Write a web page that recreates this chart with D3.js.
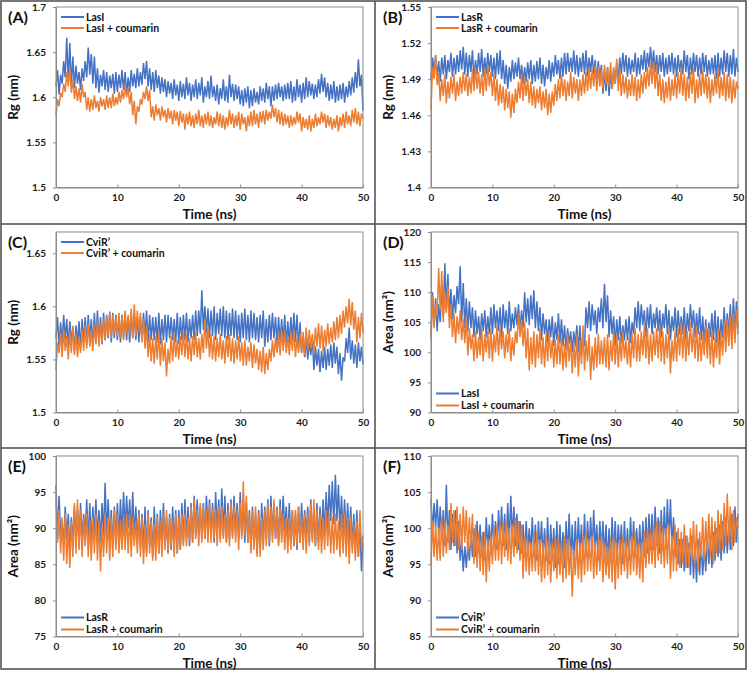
<!DOCTYPE html>
<html><head><meta charset="utf-8">
<script src="https://cdn.jsdelivr.net/npm/d3@7"></script>
<style>
html,body{margin:0;padding:0;background:#fff;}
svg{display:block;font-family:Lato,"Open Sans",sans-serif;}
</style></head>
<body>
<svg id="chart" width="750" height="674"></svg>
<script>
// Time axis (ns): samples every 0.25 ns
const timeStep = 0.25;
const xTicks = [0, 10, 20, 30, 40, 50];

// (A) Rg LasI
const lasI_rg = [
1.612,1.630,1.603,1.625, 1.615,1.640,1.622,1.666, 1.618,1.660,1.612,1.645, 1.610,1.635,1.615,1.628,
1.608,1.632,1.618,1.640, 1.622,1.655,1.625,1.648, 1.615,1.645,1.610,1.632, 1.605,1.625,1.612,1.630,
1.608,1.628,1.606,1.624, 1.610,1.626,1.604,1.628, 1.606,1.625,1.610,1.630, 1.608,1.628,1.604,1.622,
1.606,1.630,1.612,1.626, 1.610,1.632,1.612,1.628, 1.614,1.638,1.620,1.640, 1.612,1.632,1.608,1.628,
1.606,1.630,1.610,1.624, 1.604,1.622,1.606,1.620, 1.600,1.618,1.604,1.616, 1.598,1.620,1.602,1.614,
1.596,1.618,1.600,1.615, 1.598,1.622,1.602,1.616, 1.596,1.614,1.600,1.620, 1.598,1.616,1.602,1.622,
1.594,1.612,1.600,1.618, 1.598,1.624,1.600,1.612, 1.596,1.614,1.592,1.610, 1.598,1.620,1.596,1.612,
1.594,1.625,1.600,1.615, 1.596,1.614,1.598,1.612, 1.592,1.608,1.590,1.610, 1.594,1.612,1.588,1.608,
1.590,1.610,1.594,1.606, 1.592,1.612,1.596,1.610, 1.594,1.616,1.598,1.612, 1.590,1.612,1.596,1.614,
1.598,1.616,1.600,1.612, 1.596,1.614,1.598,1.616, 1.598,1.618,1.594,1.612, 1.596,1.620,1.600,1.614,
1.594,1.616,1.598,1.622, 1.600,1.618,1.602,1.615, 1.598,1.614,1.600,1.620, 1.604,1.626,1.606,1.622,
1.600,1.616,1.596,1.614, 1.598,1.618,1.594,1.612, 1.596,1.614,1.598,1.616, 1.594,1.612,1.600,1.618,
1.602,1.622,1.605,1.628, 1.610,1.642,1.612,1.625, 1.585];
// (A) Rg LasI + coumarin
const lasI_cou_rg = [
1.580,1.598,1.590,1.605, 1.600,1.615,1.606,1.628, 1.612,1.632,1.605,1.620, 1.598,1.612,1.596,1.610,
1.594,1.615,1.600,1.606, 1.586,1.600,1.584,1.598, 1.586,1.602,1.588,1.596, 1.584,1.600,1.590,1.598,
1.586,1.602,1.588,1.600, 1.588,1.604,1.590,1.600, 1.592,1.606,1.594,1.608, 1.598,1.614,1.600,1.610,
1.592,1.606,1.580,1.596, 1.570,1.590,1.584,1.598, 1.592,1.606,1.598,1.612, 1.596,1.608,1.578,1.590,
1.574,1.592,1.580,1.588, 1.574,1.590,1.578,1.586, 1.572,1.588,1.576,1.585, 1.570,1.586,1.574,1.584,
1.568,1.585,1.572,1.582, 1.564,1.582,1.570,1.584, 1.568,1.580,1.566,1.582, 1.570,1.586,1.568,1.580,
1.566,1.582,1.570,1.584, 1.568,1.580,1.566,1.578, 1.570,1.584,1.568,1.582, 1.566,1.580,1.564,1.578,
1.568,1.586,1.570,1.582, 1.566,1.580,1.568,1.584, 1.564,1.582,1.570,1.578, 1.562,1.580,1.568,1.584,
1.568,1.586,1.570,1.582, 1.566,1.584,1.572,1.585, 1.570,1.586,1.574,1.584, 1.576,1.592,1.578,1.588,
1.572,1.586,1.570,1.584, 1.568,1.582,1.570,1.580, 1.566,1.580,1.568,1.578, 1.570,1.584,1.572,1.582,
1.562,1.578,1.566,1.576, 1.564,1.580,1.562,1.576, 1.566,1.582,1.568,1.578, 1.570,1.584,1.572,1.582,
1.566,1.580,1.568,1.578, 1.564,1.576,1.566,1.580, 1.562,1.578,1.568,1.582, 1.566,1.584,1.570,1.580,
1.568,1.586,1.572,1.588, 1.570,1.584,1.568,1.582, 1.576];

// (B) Rg LasR
const lasR_rg = [
1.490,1.508,1.495,1.510, 1.492,1.505,1.488,1.508, 1.494,1.510,1.490,1.506, 1.496,1.512,1.492,1.508,
1.494,1.510,1.496,1.514, 1.498,1.517,1.494,1.512, 1.492,1.510,1.496,1.514, 1.490,1.506,1.494,1.512,
1.496,1.515,1.492,1.508, 1.494,1.512,1.496,1.510, 1.492,1.508,1.490,1.512, 1.494,1.514,1.490,1.506,
1.486,1.502,1.482,1.500, 1.488,1.506,1.490,1.504, 1.492,1.508,1.490,1.502, 1.486,1.500,1.488,1.504,
1.490,1.506,1.486,1.502, 1.488,1.505,1.490,1.508, 1.486,1.502,1.484,1.500, 1.490,1.506,1.488,1.504,
1.492,1.510,1.494,1.506, 1.490,1.508,1.492,1.512, 1.494,1.512,1.496,1.508, 1.496,1.514,1.494,1.510,
1.492,1.508,1.496,1.512, 1.494,1.514,1.492,1.508, 1.496,1.510,1.494,1.506, 1.488,1.505,1.490,1.502,
1.478,1.496,1.480,1.500, 1.476,1.494,1.482,1.498, 1.486,1.504,1.490,1.508, 1.494,1.512,1.496,1.510,
1.492,1.508,1.494,1.506, 1.496,1.512,1.492,1.508, 1.494,1.510,1.498,1.514, 1.496,1.512,1.500,1.517,
1.498,1.514,1.496,1.510, 1.494,1.510,1.496,1.512, 1.492,1.508,1.494,1.510, 1.496,1.512,1.494,1.508,
1.492,1.510,1.496,1.506, 1.494,1.514,1.496,1.510, 1.490,1.508,1.494,1.512, 1.496,1.510,1.492,1.508,
1.494,1.512,1.496,1.510, 1.492,1.506,1.494,1.508, 1.494,1.510,1.490,1.512, 1.492,1.508,1.494,1.514,
1.496,1.512,1.492,1.510, 1.494,1.515,1.492,1.508, 1.496];
// (B) Rg LasR + coumarin
const lasR_cou_rg = [
1.465,1.500,1.490,1.510, 1.485,1.495,1.472,1.490, 1.476,1.494,1.470,1.488, 1.474,1.492,1.478,1.494,
1.472,1.488,1.476,1.492, 1.478,1.496,1.480,1.494, 1.476,1.492,1.478,1.498, 1.480,1.500,1.482,1.496,
1.478,1.494,1.476,1.498, 1.480,1.502,1.484,1.496, 1.476,1.494,1.472,1.490, 1.468,1.486,1.470,1.484,
1.464,1.482,1.466,1.480, 1.458,1.478,1.462,1.482, 1.470,1.488,1.474,1.494, 1.472,1.492,1.476,1.490,
1.470,1.488,1.468,1.484, 1.466,1.482,1.470,1.484, 1.464,1.480,1.466,1.482, 1.460,1.478,1.462,1.480,
1.468,1.486,1.472,1.490, 1.474,1.494,1.476,1.490, 1.472,1.488,1.476,1.496, 1.474,1.492,1.478,1.490,
1.472,1.490,1.476,1.494, 1.478,1.496,1.480,1.500, 1.482,1.498,1.484,1.502, 1.480,1.500,1.484,1.498,
1.482,1.502,1.486,1.500, 1.484,1.504,1.482,1.500, 1.486,1.507,1.480,1.498, 1.476,1.494,1.478,1.492,
1.474,1.490,1.476,1.494, 1.476,1.492,1.472,1.490, 1.474,1.494,1.478,1.496, 1.482,1.500,1.484,1.504,
1.486,1.505,1.482,1.502, 1.476,1.494,1.472,1.490, 1.470,1.488,1.474,1.492, 1.472,1.490,1.476,1.494,
1.474,1.496,1.478,1.500, 1.476,1.494,1.472,1.492, 1.474,1.496,1.478,1.500, 1.470,1.490,1.474,1.494,
1.476,1.498,1.478,1.494, 1.474,1.492,1.470,1.490, 1.476,1.494,1.478,1.498, 1.474,1.492,1.476,1.496,
1.472,1.494,1.474,1.492, 1.470,1.490,1.474,1.488, 1.482];

// (C) Rg CviR'
const cviR_rg = [
1.570,1.590,1.560,1.585, 1.565,1.592,1.568,1.588, 1.562,1.586,1.566,1.580, 1.558,1.582,1.564,1.586,
1.560,1.588,1.566,1.590, 1.564,1.592,1.568,1.588, 1.562,1.594,1.566,1.596, 1.566,1.590,1.564,1.594,
1.568,1.592,1.570,1.595, 1.566,1.594,1.570,1.592, 1.568,1.590,1.566,1.592, 1.570,1.594,1.568,1.590,
1.566,1.592,1.570,1.594, 1.568,1.590,1.566,1.588, 1.570,1.594,1.572,1.596, 1.566,1.592,1.568,1.590,
1.568,1.590,1.566,1.594, 1.564,1.588,1.568,1.592, 1.566,1.592,1.570,1.590, 1.568,1.588,1.566,1.594,
1.564,1.590,1.568,1.592, 1.568,1.594,1.566,1.588, 1.570,1.592,1.568,1.596, 1.572,1.596,1.574,1.615,
1.578,1.600,1.574,1.598, 1.570,1.596,1.572,1.600, 1.568,1.594,1.574,1.598, 1.572,1.600,1.570,1.596,
1.568,1.594,1.572,1.598, 1.570,1.596,1.568,1.592, 1.566,1.594,1.570,1.598, 1.568,1.592,1.566,1.596,
1.570,1.594,1.568,1.590, 1.566,1.592,1.570,1.596, 1.562,1.588,1.566,1.592, 1.568,1.594,1.570,1.590,
1.564,1.590,1.566,1.588, 1.566,1.592,1.562,1.586, 1.564,1.590,1.568,1.594, 1.566,1.592,1.560,1.585,
1.556,1.572,1.552,1.568, 1.550,1.566,1.554,1.570, 1.540,1.562,1.544,1.560, 1.538,1.558,1.542,1.562,
1.540,1.560,1.544,1.564, 1.542,1.566,1.546,1.562, 1.536,1.556,1.530,1.552, 1.548,1.570,1.556,1.580,
1.550,1.568,1.546,1.564, 1.542,1.566,1.548,1.562, 1.545];
// (C) Rg CviR' + coumarin
const cviR_cou_rg = [
1.540,1.566,1.556,1.575, 1.552,1.578,1.558,1.572, 1.550,1.576,1.556,1.582, 1.554,1.574,1.552,1.570,
1.556,1.578,1.558,1.582, 1.560,1.584,1.562,1.578, 1.558,1.582,1.564,1.586, 1.562,1.584,1.566,1.588,
1.568,1.590,1.572,1.594, 1.570,1.592,1.574,1.590, 1.572,1.594,1.570,1.592, 1.568,1.596,1.574,1.592,
1.574,1.598,1.570,1.602, 1.572,1.596,1.576,1.594, 1.566,1.588,1.560,1.582, 1.552,1.574,1.548,1.570,
1.546,1.572,1.550,1.576, 1.544,1.570,1.548,1.566, 1.534,1.560,1.546,1.572, 1.548,1.574,1.552,1.568,
1.550,1.572,1.554,1.576, 1.552,1.574,1.550,1.570, 1.548,1.572,1.554,1.576, 1.552,1.570,1.550,1.574,
1.556,1.588,1.560,1.580, 1.552,1.574,1.550,1.572, 1.548,1.570,1.552,1.574, 1.550,1.568,1.546,1.572,
1.552,1.574,1.548,1.570, 1.546,1.568,1.550,1.572, 1.548,1.566,1.544,1.568, 1.544,1.562,1.548,1.566,
1.542,1.564,1.546,1.560, 1.540,1.558,1.538,1.562, 1.536,1.556,1.540,1.560, 1.548,1.568,1.552,1.570,
1.556,1.574,1.554,1.578, 1.558,1.576,1.556,1.572, 1.554,1.574,1.558,1.578, 1.552,1.570,1.556,1.574,
1.556,1.576,1.554,1.580, 1.558,1.578,1.560,1.574, 1.556,1.580,1.562,1.584, 1.560,1.582,1.558,1.578,
1.562,1.584,1.564,1.580, 1.566,1.586,1.568,1.590, 1.570,1.592,1.574,1.596, 1.580,1.600,1.584,1.607,
1.582,1.604,1.578,1.596, 1.566,1.590,1.570,1.594, 1.575];

// (D) SASA LasI
const lasI_area = [
103.0,110.0,104.5,109.0, 103.5,108.0,105.0,111.0, 106.0,114.8,107.0,113.0, 106.0,110.5,105.5,109.5,
106.5,111.0,108.0,114.3, 105.0,111.5,104.0,109.0, 103.5,108.5,104.0,107.5, 102.5,107.0,103.0,106.0,
102.0,106.5,103.5,107.0, 102.5,106.0,103.0,107.5, 103.0,108.0,104.0,107.0, 103.5,107.5,102.5,108.0,
104.0,107.0,103.0,108.5, 103.5,106.5,104.0,107.5, 104.5,108.0,103.5,107.0, 104.0,110.0,105.0,109.0,
104.5,109.5,105.5,110.3, 104.0,108.5,103.5,107.5, 102.0,106.5,103.0,105.5, 101.5,105.5,102.5,106.0,
101.0,105.0,102.0,106.5, 101.5,105.5,101.0,104.5, 100.5,104.0,101.5,103.5, 100.0,103.5,101.0,104.5,
100.0,104.5,99.5,103.0, 101.0,107.5,104.0,108.5, 103.5,108.0,104.5,107.0, 103.0,107.5,105.0,109.0,
104.0,111.4,105.0,109.5, 102.5,107.0,103.0,106.0, 101.0,105.5,102.0,106.0, 101.5,104.5,102.0,105.5,
102.0,106.0,101.5,105.0, 103.0,107.5,104.0,108.5, 103.5,108.0,104.5,107.0, 102.5,107.5,104.0,108.0,
103.0,106.5,104.0,107.5, 103.5,107.0,102.5,106.5, 104.0,108.0,103.0,107.0, 102.0,106.0,103.5,107.5,
102.5,107.0,103.0,106.0, 103.0,107.5,102.0,106.5, 103.5,108.0,104.0,107.0, 102.5,106.5,103.0,107.5,
102.0,106.0,101.5,105.5, 101.5,105.0,102.5,106.5, 102.0,107.0,101.5,106.0, 101.0,105.5,102.5,107.5,
102.0,106.5,103.0,108.0, 102.5,109.0,103.5,108.5, 104.0];
// (D) SASA LasI + coumarin
const lasI_cou_area = [
102.0,109.5,104.0,108.0, 106.0,114.0,107.0,113.5, 105.0,110.0,106.5,111.0, 104.0,108.0,102.5,106.5,
101.5,106.0,103.0,107.0, 102.0,105.5,101.5,106.0, 99.5,104.0,100.5,103.0, 98.5,103.5,99.0,102.5,
99.5,104.0,98.5,103.0, 100.0,103.5,99.0,104.0, 98.5,103.0,100.0,104.5, 99.5,104.0,100.5,103.5,
99.0,103.0,100.0,104.0, 98.5,102.5,99.5,103.5, 101.5,106.5,102.5,105.5, 101.0,105.0,99.0,104.0,
97.0,102.5,98.0,103.5, 97.5,103.0,99.0,104.0, 98.0,102.5,97.5,103.0, 98.5,103.5,99.0,102.0,
97.5,102.0,98.0,103.0, 98.0,102.5,97.0,101.5, 97.5,103.0,98.5,102.0, 96.5,101.5,97.5,103.0,
96.0,102.0,98.0,104.5, 97.0,102.0,98.5,103.0, 95.4,101.0,97.0,102.5, 97.5,103.0,98.0,102.0,
98.0,102.5,97.5,103.0, 97.0,102.0,98.5,103.5, 98.0,103.0,97.5,102.5, 98.5,103.5,99.0,102.0,
98.0,102.5,97.5,103.0, 99.0,104.0,98.5,103.0, 98.5,103.5,99.5,104.5, 99.0,104.0,98.0,103.0,
98.5,103.5,99.5,104.0, 99.0,104.5,98.5,103.5, 98.0,103.0,99.0,104.0, 96.5,102.0,98.5,103.5,
98.5,104.0,99.5,105.0, 99.0,104.5,98.5,103.5, 99.5,105.0,100.0,104.0, 99.0,104.5,98.5,103.5,
98.5,103.0,99.5,104.5, 99.0,104.0,98.0,103.5, 97.5,102.5,99.0,104.0, 98.0,103.5,99.5,105.0,
100.0,105.5,101.0,106.0, 100.5,106.5,101.5,107.0, 103.0];

// (E) SASA LasR
const lasR_area = [
96.0,88.5,94.5,89.0, 91.0,87.5,93.0,88.5, 92.0,87.0,91.5,88.0, 93.0,88.0,92.5,87.5,
93.5,88.5,92.0,89.0, 94.0,88.0,93.5,87.5, 93.0,89.0,94.0,88.5, 92.5,88.0,93.5,89.0,
96.3,89.0,94.0,88.0, 92.5,87.5,93.0,88.5, 93.5,88.5,94.0,89.0, 95.0,89.5,94.5,90.0,
94.0,89.0,95.0,88.5, 93.0,88.0,92.5,87.5, 92.0,87.0,93.0,86.5, 92.5,87.5,91.5,86.0,
93.0,87.0,92.0,86.5, 92.5,88.0,93.5,87.5, 91.5,86.5,92.0,87.0, 93.0,87.5,92.5,86.5,
92.5,87.0,93.5,88.0, 94.0,88.5,93.0,87.5, 93.5,88.0,94.5,89.0, 94.0,89.0,93.0,88.5,
93.5,88.5,94.5,89.5, 94.0,89.0,93.5,88.0, 95.0,89.5,94.0,88.5, 95.5,89.0,94.5,88.0,
93.5,88.5,94.0,89.0, 94.5,89.5,93.5,88.5, 95.0,89.0,94.0,88.0, 93.5,88.0,92.5,87.0,
93.0,87.5,92.0,86.5, 92.5,87.0,93.5,88.0, 93.0,88.5,94.0,87.5, 94.5,89.0,93.5,88.5,
93.0,88.0,94.0,89.0, 94.5,89.5,93.0,88.5, 93.5,88.0,92.5,87.5, 92.0,87.0,93.0,88.0,
93.5,88.5,92.5,89.0, 93.0,88.0,94.0,88.5, 92.5,87.5,93.5,88.0, 93.0,88.5,94.0,89.0,
95.0,90.0,96.0,91.0, 96.5,90.5,97.4,91.0, 96.0,89.5,94.5,89.0, 94.0,88.5,93.5,88.0,
93.0,87.5,92.0,86.5, 92.5,86.0,91.0,84.0, 88.0];
// (E) SASA LasR + coumarin
const lasR_cou_area = [
94.0,88.0,92.5,86.5, 91.5,85.5,92.0,85.0, 90.5,84.5,91.0,86.0, 93.5,86.5,94.0,87.0,
92.5,86.0,91.5,87.5, 92.0,86.0,91.0,85.5, 91.5,86.5,92.0,85.5, 91.0,84.0,90.5,86.0,
92.0,86.5,91.5,85.5, 91.5,86.0,92.5,87.0, 92.0,86.5,91.0,87.0, 91.5,87.0,92.0,86.5,
92.0,86.0,91.5,87.5, 91.0,86.5,92.0,86.0, 91.5,85.0,90.5,86.0, 92.0,86.5,91.0,85.5,
90.5,85.5,91.5,86.5, 91.0,86.0,92.0,87.0, 92.5,86.5,91.5,87.5, 91.0,86.0,92.0,86.5,
91.5,87.0,92.0,87.5, 92.0,87.5,91.5,88.0, 93.0,88.0,94.0,88.5, 92.5,87.5,93.5,88.0,
93.0,88.5,92.5,88.0, 93.5,88.0,92.5,88.5, 92.5,87.5,93.0,88.0, 93.0,88.5,92.0,88.0,
92.5,87.5,93.5,88.5, 93.0,88.0,92.5,87.0, 93.5,88.5,96.5,89.0, 94.5,88.0,92.0,86.5,
92.5,87.0,93.0,86.0, 92.0,86.0,91.5,87.0, 92.5,87.5,93.5,88.0, 93.0,88.0,94.0,88.5,
92.5,87.5,93.0,88.0, 92.0,87.0,91.5,86.5, 91.5,87.0,92.5,87.5, 92.5,87.5,93.0,88.0,
91.5,87.0,92.0,86.5, 92.0,87.5,93.5,88.0, 94.0,87.5,92.5,87.0, 92.0,86.5,91.5,87.0,
92.5,87.5,92.0,86.5, 91.5,86.5,92.0,87.0, 91.0,86.0,92.0,86.5, 92.0,86.0,91.5,85.0,
91.5,86.5,90.5,85.5, 91.0,86.0,92.5,87.0, 89.0];

// (F) SASA CviR'
const cviR_area = [
104.0,99.5,103.5,100.0, 104.0,99.0,103.0,98.5, 102.5,97.5,106.0,98.0, 102.5,97.0,102.0,97.5,
102.5,96.5,101.0,95.5, 98.5,94.0,97.5,94.5, 98.0,95.5,99.5,96.0, 100.0,96.0,101.0,96.5,
100.5,96.0,99.5,95.5, 101.5,97.0,100.5,96.5, 102.0,97.5,101.0,97.0, 102.5,98.0,103.0,97.5,
102.0,97.0,103.5,98.0, 104.5,98.5,103.0,97.5, 102.0,97.0,101.0,96.5, 100.5,96.0,101.0,96.5,
100.0,96.5,101.5,96.0, 100.5,95.5,101.0,96.5, 101.0,96.0,100.0,95.5, 101.5,95.0,100.5,96.0,
100.0,94.5,101.0,95.0, 100.5,95.5,99.5,94.5, 101.0,96.0,102.0,95.5, 100.5,95.0,101.0,96.0,
101.5,96.5,100.5,95.5, 102.0,96.0,101.0,96.5, 101.5,96.5,102.5,97.0, 100.5,95.5,101.0,96.5,
101.0,96.0,100.5,95.0, 100.0,95.5,101.5,96.0, 101.0,95.5,100.5,96.5, 100.5,95.0,101.0,96.0,
100.0,95.5,101.5,96.5, 101.0,96.0,100.0,95.5, 100.5,95.5,101.0,96.0, 101.5,96.5,102.0,97.0,
102.0,97.0,103.0,97.5, 101.5,96.5,102.5,97.0, 103.0,97.5,104.0,98.0, 104.0,97.0,101.5,96.0,
99.5,95.0,98.5,94.5, 98.5,94.0,99.0,94.5, 98.0,93.5,99.0,93.0, 97.5,92.5,98.5,93.5,
98.0,93.5,97.5,94.0, 99.0,95.0,98.5,94.5, 99.5,95.5,100.0,96.0, 100.5,95.5,101.0,96.5,
101.5,96.5,100.5,97.0, 102.0,97.5,103.0,98.0, 102.0];
// (F) SASA CviR' + coumarin
const cviR_cou_area = [
95.0,101.0,96.0,100.5, 95.5,100.0,95.5,101.5, 96.0,101.0,96.5,100.5, 97.0,103.5,98.0,102.5,
97.5,103.0,97.0,102.0, 97.0,103.0,98.0,102.5, 96.5,101.5,97.5,102.0, 95.0,100.5,94.5,99.5,
94.0,99.0,93.5,99.5, 92.5,98.5,94.0,99.0, 95.0,100.0,95.5,100.5, 95.5,100.5,95.0,101.0,
96.0,101.0,95.5,100.0, 95.0,100.5,96.0,101.5, 96.5,101.0,95.5,100.5, 93.0,99.0,94.0,98.5,
93.5,98.0,94.0,99.0, 94.0,99.5,93.5,98.5, 92.5,98.0,93.0,99.0, 93.5,98.5,92.5,98.0,
94.0,99.0,93.0,98.5, 93.5,98.0,92.5,99.0, 93.0,98.5,93.5,97.5, 90.5,97.0,93.5,98.5,
93.0,98.0,92.5,99.0, 93.5,99.5,94.0,98.5, 94.0,99.0,93.0,98.0, 93.5,98.5,94.0,99.0,
92.5,98.0,93.5,97.5, 93.0,98.5,92.5,99.0, 91.5,98.0,93.0,98.5, 93.5,99.0,94.0,98.5,
93.0,98.5,93.5,99.0, 94.0,99.5,93.5,98.0, 93.0,98.0,92.5,99.5, 94.5,100.0,95.0,99.5,
95.0,100.5,94.5,101.0, 95.5,101.0,95.0,100.0, 94.5,100.0,95.0,100.5, 93.0,99.0,94.0,100.5,
94.0,100.0,94.5,99.5, 95.0,100.5,94.5,99.0, 94.5,100.0,95.5,101.0, 95.0,100.5,94.0,99.5,
96.0,101.5,95.5,101.0, 96.5,102.0,96.0,101.5, 95.0,101.0,96.5,102.5, 96.5,102.0,97.0,103.5,
97.5,104.8,98.0,103.0, 97.0,102.5,98.0,101.5, 100.0];

// Axis tick labels
const yTicksA = [1.5, 1.55, 1.6, 1.65, 1.7];
const yTicksB = [1.4, 1.43, 1.46, 1.49, 1.52, 1.55];
const yTicksC = [1.5, 1.55, 1.6, 1.65];
const yTicksD = [90, 95, 100, 105, 110, 115, 120];
const yTicksE = [75, 80, 85, 90, 95, 100];
const yTicksF = [85, 90, 95, 100, 105, 110];

const panelLabels = ["(A)", "(B)", "(C)", "(D)", "(E)", "(F)"];
const yTitles = ["Rg (nm)", "Rg (nm)", "Rg (nm)", "Area (nm²)", "Area (nm²)", "Area (nm²)"];
const legendNames = [
  ["LasI", "LasI + coumarin"],
  ["LasR", "LasR + coumarin"],
  ["CviR’", "CviR’ + coumarin"],
  ["LasI", "LasI + coumarin"],
  ["LasR", "LasR + coumarin"],
  ["CviR’", "CviR’ + coumarin"]
];
const seriesColors = ["#4472C4", "#ED7D31"];

// ---------- drawing ----------
const svg = d3.select("#chart");
const colLeft = [56, 431], plotW = 307;
const rowTop = [7, 232, 456], plotH = 180.5;

const panels = [
  {s:[lasI_rg, lasI_cou_rg], dom:[1.5,1.7], ticks:yTicksA, leg:"top", c:0, r:0},
  {s:[lasR_rg, lasR_cou_rg], dom:[1.4,1.55], ticks:yTicksB, leg:"top", c:1, r:0},
  {s:[cviR_rg, cviR_cou_rg], dom:[1.5,1.67], ticks:yTicksC, leg:"top", c:0, r:1},
  {s:[lasI_area, lasI_cou_area], dom:[90,120], ticks:yTicksD, leg:"bottom", c:1, r:1},
  {s:[lasR_area, lasR_cou_area], dom:[75,100], ticks:yTicksE, leg:"bottom", c:0, r:2},
  {s:[cviR_area, cviR_cou_area], dom:[85,110], ticks:yTicksF, leg:"bottom", c:1, r:2}
];

// outer frame and dividers
const frame = svg.append("g").attr("stroke", "#4a4a4a").attr("stroke-width", 1.5).attr("fill", "none");
frame.append("rect").attr("x", 1).attr("y", 1).attr("width", 745).attr("height", 668);
frame.append("line").attr("x1", 375).attr("x2", 375).attr("y1", 1).attr("y2", 669);
frame.append("line").attr("x1", 1).attr("x2", 746).attr("y1", 224).attr("y2", 224);
frame.append("line").attr("x1", 1).attr("x2", 746).attr("y1", 448).attr("y2", 448);

const fmt = d => String(d);

panels.forEach((p, i) => {
  const x0 = colLeft[p.c], y0 = rowTop[p.r];
  const g = svg.append("g").attr("transform", `translate(${x0},${y0})`);
  const x = d3.scaleLinear().domain([0, 50]).range([0, plotW]);
  const y = d3.scaleLinear().domain(p.dom).range([plotH, 0]);

  // data lines
  p.s.forEach((arr, k) => {
    const line = d3.line().x((d, j) => x(j * timeStep)).y(d => y(d));
    g.append("path").datum(arr)
      .attr("d", line)
      .attr("fill", "none")
      .attr("stroke", seriesColors[k])
      .attr("stroke-width", 1.5)
      .attr("stroke-linejoin", "miter");
  });

  // plot frame
  g.append("rect").attr("x", 0).attr("y", 0).attr("width", plotW).attr("height", plotH)
    .attr("fill", "none").attr("stroke", "#8c8c8c").attr("stroke-width", 1);

  // x axis
  const xa = g.append("g").attr("transform", `translate(0,${plotH})`)
    .call(d3.axisBottom(x).tickValues(xTicks).tickSizeInner(-3).tickSizeOuter(0).tickPadding(6).tickFormat(fmt));
  xa.select(".domain").attr("stroke", "#8c8c8c");
  xa.selectAll(".tick line").attr("stroke", "#8c8c8c");
  xa.selectAll("text").attr("font-family", "Lato").attr("font-weight", "bold").attr("font-size", 10).attr("fill", "#1a1a1a");

  // y axis
  const ya = g.append("g")
    .call(d3.axisLeft(y).tickValues(p.ticks).tickSizeInner(3).tickSizeOuter(0).tickPadding(7).tickFormat(fmt));
  ya.select(".domain").attr("stroke", "#8c8c8c");
  ya.selectAll(".tick line").attr("stroke", "#8c8c8c");
  ya.selectAll("text").attr("font-family", "Lato").attr("font-weight", "bold").attr("font-size", 10).attr("fill", "#1a1a1a");

  // axis titles
  g.append("text").attr("x", plotW / 2).attr("y", plotH + 31)
    .attr("text-anchor", "middle").attr("font-family", "Lato").attr("font-weight", "bold")
    .attr("font-size", 13.5).attr("fill", "#111").text("Time (ns)");
  g.append("text")
    .attr("transform", `translate(${-38},${plotH / 2}) rotate(-90)`)
    .attr("text-anchor", "middle").attr("font-family", "Lato").attr("font-weight", "bold")
    .attr("font-size", 13.5).attr("fill", "#111").text(yTitles[i]);

  // panel label
  g.append("text").attr("x", -48).attr("y", 16)
    .attr("font-family", "Lato").attr("font-weight", "bold").attr("font-size", 16)
    .attr("fill", "#111").text(panelLabels[i]);

  // legend
  const ly = p.leg === "top" ? [10, 21] : [plotH - 19, plotH - 7];
  legendNames[i].forEach((name, k) => {
    g.append("line").attr("x1", 5).attr("x2", 28).attr("y1", ly[k]).attr("y2", ly[k])
      .attr("stroke", seriesColors[k]).attr("stroke-width", 2);
    g.append("text").attr("x", 30).attr("y", ly[k]).attr("dy", "0.35em")
      .attr("font-family", "Lato").attr("font-weight", "bold").attr("font-size", 10.5)
      .attr("fill", "#111").text(name);
  });
});
</script>
</body></html>
